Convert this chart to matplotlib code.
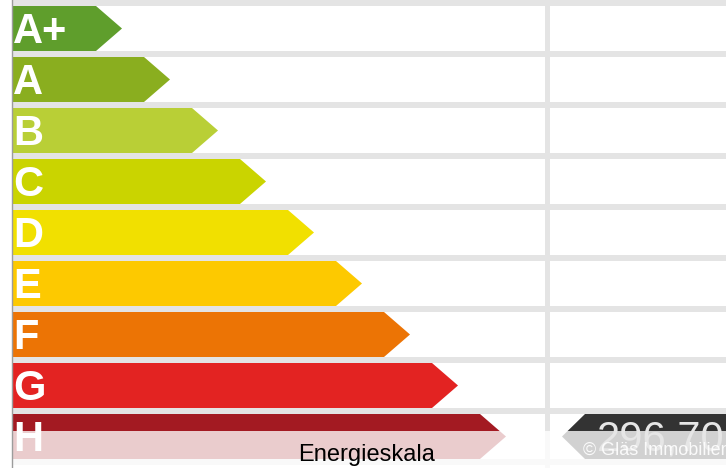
import matplotlib.pyplot as plt
from matplotlib.patches import Polygon, Rectangle

classes = ["A+", "A", "B", "C", "D", "E", "F", "G", "H"]
class_colors = ["#5f9e2c", "#8aae1f", "#b9cf36", "#cad400", "#f1e000",
                "#fdc900", "#ec7405", "#e32322", "#a31a22"]
value_label = "296,70"
value_class = "H"
caption = "Energieskala"
watermark = "© Gläs Immobilien"

W, H = 726, 468
fig = plt.figure(figsize=(W / 100, H / 100), dpi=100)
ax = fig.add_axes([0, 0, 1, 1])
ax.set_xlim(0, W)
ax.set_ylim(H, 0)
ax.axis("off")

row_h = 45
pitch = 51
top0 = 6
left = 12
split = 545

# grid background
ax.add_patch(Rectangle((left, 0), W - left, H, color="#e4e4e4", lw=0))
for i in range(len(classes) + 1):
    top = top0 + pitch * i
    ax.add_patch(Rectangle((left, top), split - left, row_h, color="white", lw=0))
    ax.add_patch(Rectangle((split + 5, top), W - split - 5, row_h, color="white", lw=0))
ax.plot([11.5, 11.5], [0, H], color="#9c9c9c", lw=1)

# arrows
for i, (c, col) in enumerate(zip(classes, class_colors)):
    top = top0 + pitch * i
    tip = 122 + 48 * i
    body = tip - 26
    ax.add_patch(Polygon([(left, top), (body, top), (tip, top + row_h / 2),
                          (body, top + row_h), (left, top + row_h)],
                         closed=True, color=col, lw=0))
    ax.text(13, top + 37, c, color="white", fontsize=30, fontweight="bold",
            family="Liberation Sans", ha="left", va="baseline")

# value marker
vi = classes.index(value_class)
vtop = top0 + pitch * vi
ax.add_patch(Polygon([(562, vtop + row_h / 2), (585, vtop), (W + 5, vtop),
                      (W + 5, vtop + row_h), (585, vtop + row_h)],
                     closed=True, color="#333333", lw=0))
ax.text(597, vtop + 37, value_label, color="#e6e6e6", fontsize=30,
        family="Liberation Sans", ha="left", va="baseline", clip_on=True)

# caption overlay
ax.add_patch(Rectangle((left, 431), W - left, H - 431, color="white", alpha=0.78, lw=0))
ax.text(367, 461, caption, color="black", fontsize=17,
        family="Liberation Sans", ha="center", va="baseline")
ax.text(583, 455, watermark, color="white", alpha=0.9, fontsize=13,
        family="Liberation Sans", ha="left", va="baseline")

fig.savefig("out.png", dpi=100)
